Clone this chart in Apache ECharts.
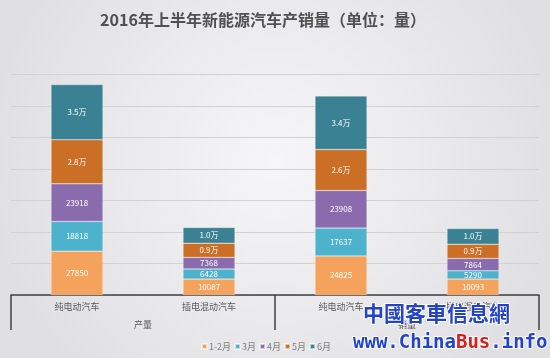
<!DOCTYPE html>
<html>
<head>
<meta charset="utf-8">
<script src="https://cdn.jsdelivr.net/npm/echarts@6/dist/echarts.min.js"></script>
<style>html,body{margin:0;padding:0;}#c{width:550px;height:358px;}</style>
</head>
<body>
<div id="c"></div>
<script>
var categories = ['纯电动汽车', '插电混动汽车', '纯电动汽车', '插电混动汽车'];
var groups = ['产量', '销量'];
var seriesNames = ['1-2月', '3月', '4月', '5月', '6月'];
var m12 = [27850, 10087, 24825, 10093];
var m3 = [18818, 6428, 17637, 5290];
var m4 = [23918, 7368, 23908, 7864];
var m5 = [28000, 9000, 26000, 9000];
var m6 = [35000, 10000, 34000, 10000];
var wanSeries = ['5月', '6月'];
var colors = ['#F5A35C', '#4DB2CC', '#8A6BAE', '#CC6F26', '#3A8193'];

var allData = [m12, m3, m4, m5, m6];
var chart = echarts.init(document.getElementById('c'));
var FONT = '"Noto Sans CJK SC", "Noto Sans", sans-serif';
var series = seriesNames.map(function (name, i) {
  return {
    name: name,
    type: 'bar',
    stack: 'total',
    barWidth: 52,
    data: allData[i],
    itemStyle: { color: colors[i], borderColor: 'rgba(255,255,255,0.6)', borderWidth: 0.5 },
    label: {
      show: true,
      position: 'inside',
      color: '#ffffff',
      fontSize: 8,
      fontFamily: FONT,
      formatter: function (p) {
        if (wanSeries.indexOf(name) >= 0) return (p.value / 10000).toFixed(1) + '万';
        return String(p.value);
      }
    }
  };
});

chart.setOption({
  backgroundColor: {
    type: 'radial', x: 0.5, y: 0.45, r: 0.8,
    colorStops: [{ offset: 0, color: '#F6F6F8' }, { offset: 1, color: '#E0E0E2' }]
  },
  animation: false,
  title: {
    text: '2016年上半年新能源汽车产销量（单位：量）',
    left: 258, top: 7, textAlign: 'center',
    textStyle: { fontSize: 16, fontWeight: 'bold', color: '#505050', fontFamily: FONT }
  },
  legend: {
    data: seriesNames,
    left: 196, top: 337,
    itemWidth: 5, itemHeight: 5, itemGap: 3,
    icon: 'rect',
    textStyle: { fontSize: 9, color: '#7F7F7F', fontFamily: FONT, padding: [0, 0, 0, -3] }
  },
  grid: { left: 11, right: 11, top: 74.5, bottom: 63 },
  xAxis: [
    {
      type: 'category', data: categories,
      axisLine: { show: true, lineStyle: { color: '#404040', width: 1.5 } },
      axisTick: { show: false },
      axisLabel: { color: '#595959', fontSize: 9, margin: 7, fontFamily: FONT }
    },
    {
      type: 'category', data: groups, position: 'bottom',
      axisLine: { show: false },
      axisTick: { show: true, length: 35, lineStyle: { color: '#404040', width: 1.5 } },
      axisLabel: { color: '#595959', fontSize: 9, margin: 25, fontFamily: FONT }
    }
  ],
  yAxis: {
    type: 'value', min: 0, max: 140000, interval: 20000,
    axisLabel: { show: false }, axisLine: { show: false }, axisTick: { show: false },
    splitLine: { lineStyle: { color: '#D2D2D4', width: 1 } }
  },
  series: series,
  graphic: [
    {
      type: 'text', left: 362, top: 302, z: 100,
      style: {
        text: '中國客車信息網', font: 'bold 21px "Noto Sans CJK TC", sans-serif',
        fill: '#2443C8', stroke: '#ffffff', lineWidth: 2
      }
    },
    {
      type: 'text', left: 352, top: 333, z: 100,
      style: {
        text: '{b|www.China}{r|Bus}{b|.info}',
        rich: {
          b: { font: 'bold 19px "DejaVu Sans Mono", monospace', fill: '#2443C8', stroke: '#ffffff', lineWidth: 2 },
          r: { font: 'bold 19px "DejaVu Sans Mono", monospace', fill: '#D62020', stroke: '#ffffff', lineWidth: 2 }
        }
      }
    }
  ]
});
</script>
</body>
</html>
